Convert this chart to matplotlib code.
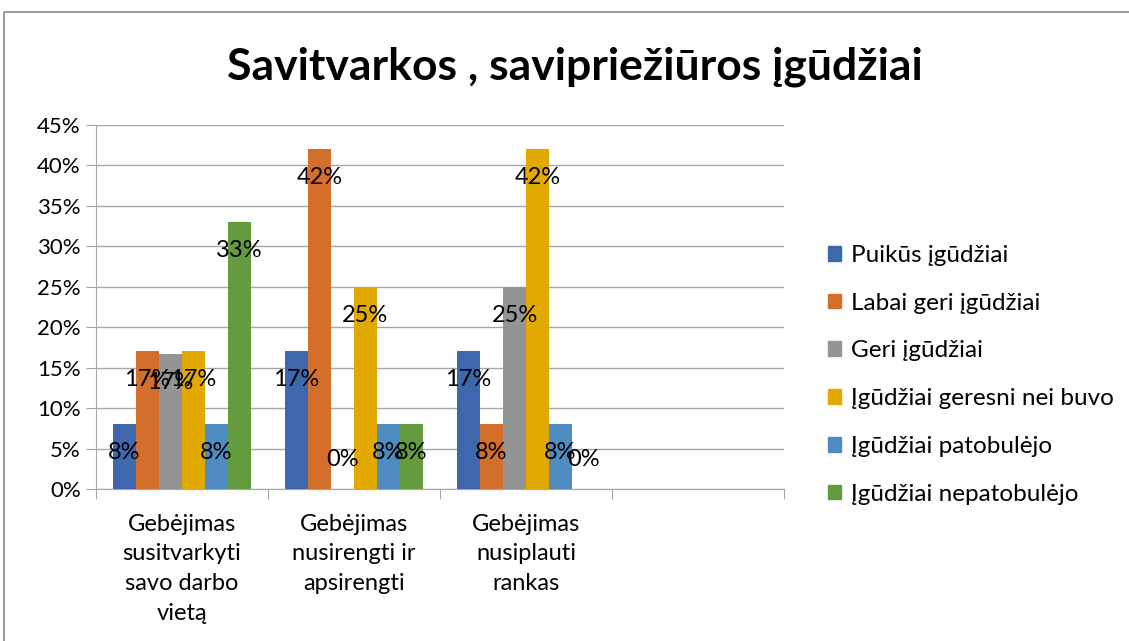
import numpy as np
import matplotlib.pyplot as plt
import matplotlib.patches as mpatches

plt.rcParams['font.family'] = ['Lato', 'DejaVu Sans']

title = 'Savitvarkos , savipriežiūros įgūdžiai'
categories = ['Gebėjimas\nsusitvarkyti\nsavo darbo\nvietą',
              'Gebėjimas\nnusirengti ir\napsirengti',
              'Gebėjimas\nnusiplauti\nrankas',
              '']
series_names = ['Puikūs įgūdžiai', 'Labai geri įgūdžiai', 'Geri įgūdžiai',
                'Įgūdžiai geresni nei buvo', 'Įgūdžiai patobulėjo',
                'Įgūdžiai nepatobulėjo']
# percent per series, one value per category (last category is empty)
puikus = [8, 17, 17, None]
labai_geri = [17, 42, 8, None]
geri = [16.7, 0, 25, None]
geresni = [17, 25, 42, None]
patobulejo = [8, 8, 8, None]
nepatobulejo = [33, 8, 0, None]
all_series = [puikus, labai_geri, geri, geresni, patobulejo, nepatobulejo]
colors = ['#3f67ae', '#d46f2b', '#949494', '#e2aa00', '#4e8bc0', '#649b3f']
yticks = [0, 5, 10, 15, 20, 25, 30, 35, 40, 45]

fig = plt.figure(figsize=(11.29, 6.41), dpi=100)
ax = fig.add_axes([96/1129, 1-489/641, 688/1129, 364/641])

n = len(all_series)
w = 1.0 / (n + 1.48)
x = np.arange(len(categories))
handles = []
for i, (vals, col, name) in enumerate(zip(all_series, colors, series_names)):
    xs = []
    hs = []
    for j, v in enumerate(vals):
        if v is None:
            continue
        xs.append(x[j] + (i - (n-1)/2) * w)
        hs.append(v)
    ax.bar(xs, hs, width=w, color=col, zorder=3)
    for xx, v in zip(xs, hs):
        if v > 0:
            ty = v - 3.5
        else:
            ty = 3.6
        ax.text(xx, ty, '%d%%' % round(v), ha='center', va='center',
                fontsize=17, color='black', zorder=4)
    handles.append(mpatches.Patch(color=col, label=name))

ax.set_xlim(-0.5, len(categories) - 0.5)
ax.set_ylim(0, 45)
ax.set_yticks(yticks)
ax.set_yticklabels(['%d%%' % t for t in yticks], fontsize=16)
ax.yaxis.grid(True, color='#a6a6a6', linewidth=1, zorder=0)
ax.set_xticks(np.arange(len(categories) + 1) - 0.5)
ax.set_xticklabels([])
ax.set_xticks(x, minor=True)
ax.set_xticklabels(categories, minor=True, fontsize=17, linespacing=1.5, va='top')
ax.tick_params(axis='x', which='minor', length=0, pad=18)
ax.tick_params(axis='x', which='major', length=7, color='#a6a6a6')
ax.tick_params(axis='y', length=7, color='#a6a6a6', pad=4)
for s in ['top', 'right']:
    ax.spines[s].set_visible(False)
ax.spines['left'].set_color('#a6a6a6')
ax.spines['bottom'].set_color('#a6a6a6')

fig.text(575/1129, 1-67/641, title, ha='center', va='center',
         fontsize=32, fontweight='bold')

fig.legend(handles=handles, loc='upper left', bbox_to_anchor=(806/1129, 1-223/641),
           frameon=False, fontsize=17.5, handlelength=0.55, handleheight=0.55,
           handletextpad=0.4, labelspacing=1.1)

fig.patches.append(mpatches.Rectangle((4/1129, -0.1), 1.2, 1.1 - 12/641,
                                      transform=fig.transFigure, fill=False,
                                      edgecolor='#8c8c8c', linewidth=1.2))

fig.savefig('out.png', dpi=100)
